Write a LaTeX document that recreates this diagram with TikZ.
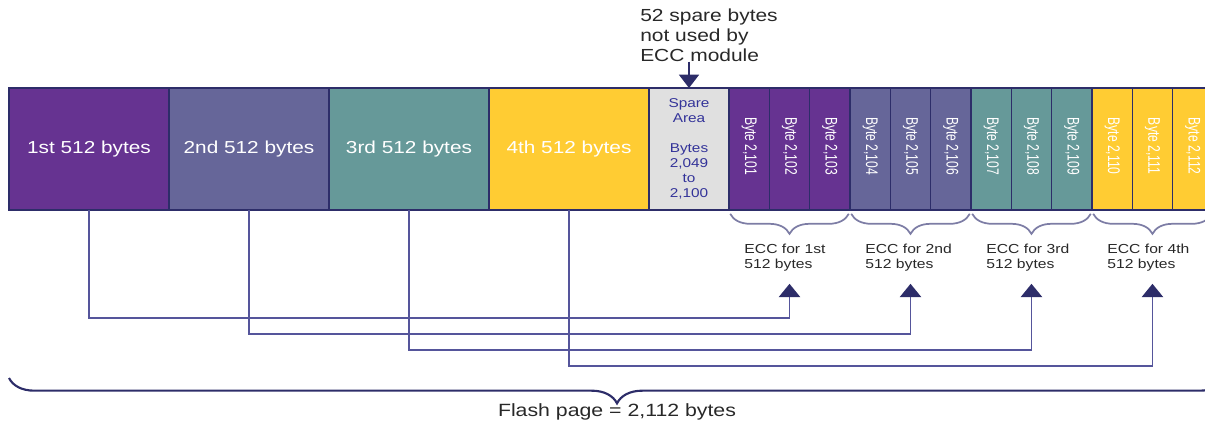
\documentclass[tikz,border=0pt]{standalone}
\usepackage{fontspec}
\setmainfont{Liberation Sans}[FakeStretch=1.2]
\newfontfamily\cellfont{Liberation Sans}[FakeStretch=0.72]
\usetikzlibrary{arrows.meta, positioning, calc, decorations.pathreplacing}
\definecolor{myPurple}{RGB}{102,51,145}
\definecolor{mySlate}{RGB}{102,102,153}
\definecolor{myTeal}{RGB}{102,153,153}
\definecolor{myGold}{RGB}{255,204,51}
\definecolor{mySpare}{RGB}{224,224,224}
\definecolor{myNavy}{RGB}{45,45,105}
\definecolor{myLine}{RGB}{85,85,155}
\definecolor{myInk}{RGB}{51,51,153}
\definecolor{myBrace}{RGB}{125,125,165}
\definecolor{myText}{RGB}{40,40,40}

\begin{document}
\begin{tikzpicture}[x=0.75pt, y=-0.75pt,
	blk/.style={draw=myNavy, line width=0.8pt, outer sep=0pt, minimum width=120pt, minimum height=91.5pt, inner sep=0pt, text=white, font=\fontsize{13}{15}\selectfont},
	cell/.style={draw=myNavy, line width=1.2pt, minimum width=30.25pt, minimum height=91.5pt, inner sep=0pt},
	celltxt/.style={rotate=-90, text=white, inner sep=0pt, font=\cellfont\fontsize{12.6}{14}\selectfont},
	ecc/.style={anchor=north west, align=left, inner sep=0pt, text=myText, font=\fontsize{9.8}{11.25}\selectfont},
	conn/.style={myLine, line width=1.2pt, -{Triangle[width=16pt, length=10pt, fill=myNavy, color=myNavy]}},
	eccbrace/.style={myBrace, line width=1.3pt, decorate, decoration={brace, mirror, amplitude=15pt}},
	pagebrace/.style={myNavy, line width=1.6pt, decorate, decoration={brace, mirror, amplitude=19pt}}]
	\useasboundingbox (0,0) rectangle (1205,426);
	\clip (0,0) rectangle (1205,426);
	% Data blocks
	\node[blk, fill=myPurple] (b1) at (89,149) {1st 512 bytes};
	\node[blk, fill=mySlate, right=0pt of b1] (b2) {2nd 512 bytes};
	\node[blk, fill=myTeal, right=0pt of b2] (b3) {3rd 512 bytes};
	\node[blk, fill=myGold, right=0pt of b3] (b4) {4th 512 bytes};
	\node[blk, fill=mySpare, minimum width=60pt, text=myInk, align=center, font=\fontsize{9.6}{11.25}\selectfont, right=0pt of b4] (spare) {Spare\\Area\\[11.25pt]Bytes\\2,049\\to\\2,100};
	% ECC bytes
	\foreach \n/\col in {1/myPurple, 2/myPurple, 3/myPurple, 4/mySlate, 5/mySlate, 6/mySlate, 7/myTeal, 8/myTeal, 9/myTeal, 10/myGold, 11/myGold, 12/myGold} {
		\pgfmathtruncatemacro\bnum{100+\n}
		\node[cell, fill=\col] (c\n) at ({729+40.33*(\n-0.5)},149) {};
		\node[celltxt] (t\n) at ($(c\n)+(0,-3)$) {Byte 2,\bnum};
	}
	% Spare note
	\node[align=left, inner sep=0pt, text=myText, font=\fontsize{13.1}{15}\selectfont] (note) at (709,35) {52 spare bytes\\not used by\\ECC module};
	\draw[myNavy, line width=1.2pt, -{Triangle[width=15pt, length=10pt]}] (note.south -| spare.north) -- (spare.north);
	% Braces and ECC labels
	\foreach \g/\a/\z/\ord in {1/1/3/1st, 2/4/6/2nd, 3/7/9/3rd, 4/10/12/4th} {
		\draw[eccbrace] ($(c\a.south west)+(2,3)$) -- ($(c\z.south east)+(-2,3)$);
		\node[ecc] (l\g) at ($(c\a.south west)+(16,33)$) {ECC for \ord\\512 bytes};
	}
	% Links from data to ECC
	\foreach \i/\m/\d in {1/2/108, 2/5/124, 3/8/140, 4/11/156} {
		\coordinate (e\i) at ($(c\m.south)+(0,73)$);
		\draw[conn] (b\i.south) -- ++(0,\d) -| (e\i);
	}
	% Whole page
	\coordinate (pgL) at ($(b1.south west)+(0,168)$);
	\coordinate (pgR) at (1225,378);
	\draw[pagebrace] (pgL) -- (pgR);
	\node[text=myText, font=\fontsize{13.3}{15}\selectfont] (pglbl) at (617,412) {Flash page = 2,112 bytes};
\end{tikzpicture}
\end{document}
